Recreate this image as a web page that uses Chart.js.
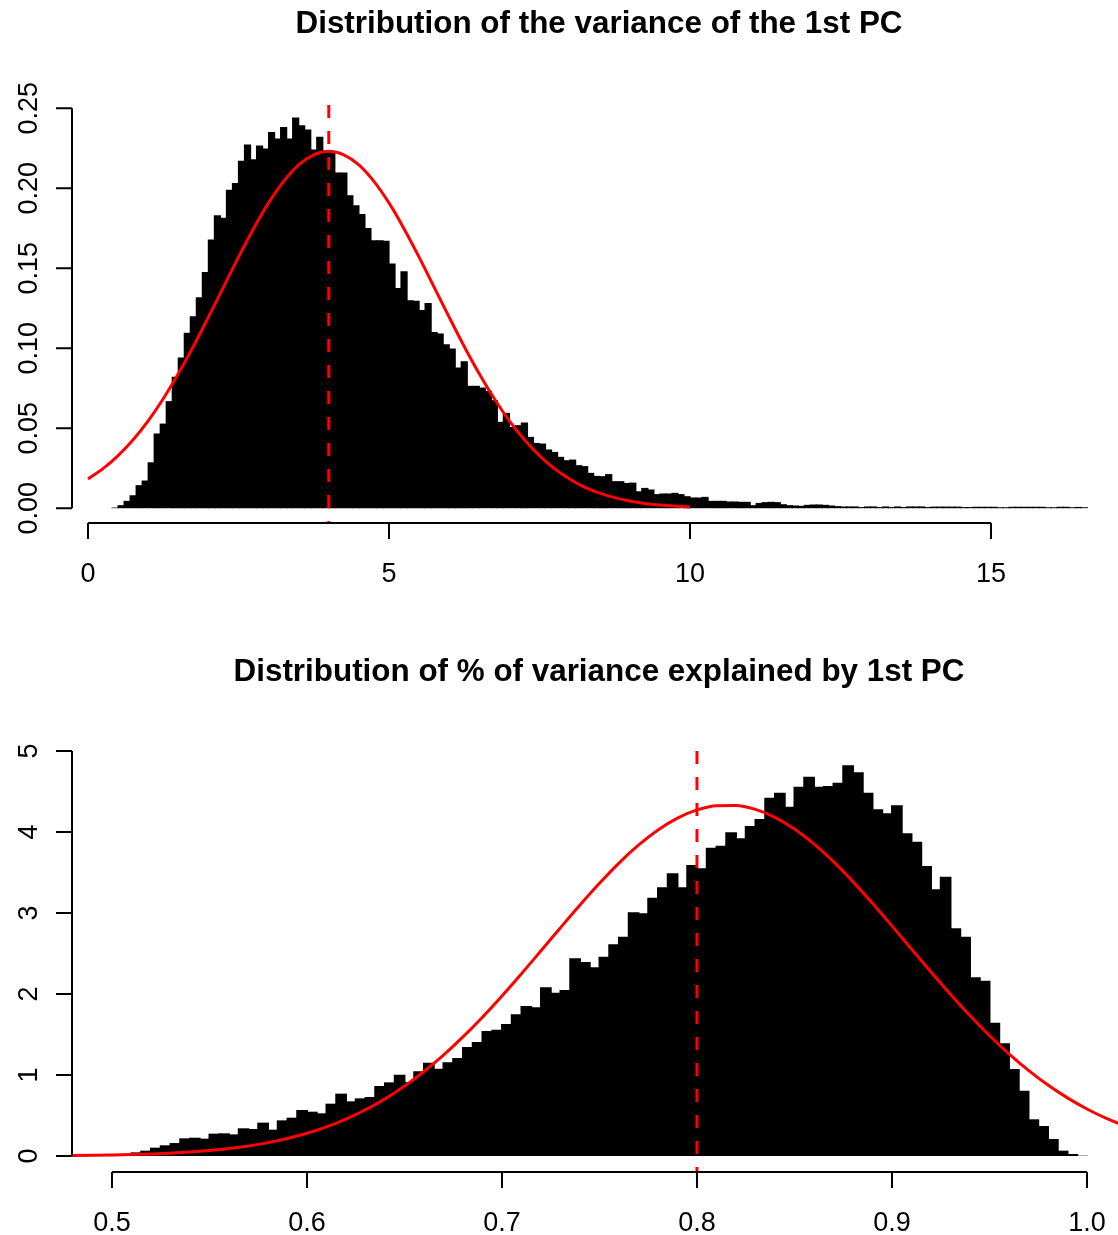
<!DOCTYPE html>
<html><head><meta charset="utf-8">
<script src="https://cdn.jsdelivr.net/npm/chart.js@4.4.1/dist/chart.umd.min.js"></script>
<style>
html,body{margin:0;padding:0;background:#fff;}
canvas{display:block;}
</style></head>
<body>
<canvas id="c1" width="1118" height="617"></canvas>
<canvas id="c2" width="1118" height="618"></canvas>
<script>
// ---------- DATA ----------
const topTitle = "Distribution of the variance of the 1st PC";
const bottomTitle = "Distribution of % of variance explained by 1st PC";

// top histogram: bins of width 0.1 starting at 0.4
const topBreakStart = 0.4;
const topBinWidth = 0.1;
const topDensity = [
  0.0004, 0.0019, 0.0046, 0.0081, 0.0144, 0.0173, 0.0287, 0.0467, 0.0529, 0.0669,
  0.0821, 0.0942, 0.1096, 0.1200, 0.1319, 0.1477, 0.1679, 0.1831, 0.1815, 0.1990,
  0.2033, 0.2171, 0.2273, 0.2181, 0.2267,
  0.2248, 0.2352, 0.2310, 0.2383, 0.2310, 0.2442, 0.2394, 0.2367, 0.2242, 0.2321,
  0.2235, 0.2230, 0.2098, 0.2098, 0.1956, 0.1894, 0.1838, 0.1752, 0.1675, 0.1675,
  0.1671, 0.1529, 0.1377, 0.1481, 0.1300,
  0.1296, 0.1238, 0.1283, 0.1102, 0.1092, 0.1025, 0.0998, 0.0879, 0.0919, 0.0765,
  0.0765, 0.0754, 0.0733, 0.0675, 0.0540, 0.0596, 0.0508, 0.0519, 0.0535, 0.0446,
  0.0408, 0.0404, 0.0367, 0.0352, 0.0321, 0.0300, 0.0304, 0.0269, 0.0263, 0.0221,
  0.0202,
  0.0200, 0.0213, 0.0169, 0.0169, 0.0158, 0.0160, 0.0106, 0.0127, 0.0117, 0.0088,
  0.0092, 0.0092, 0.0096, 0.0088, 0.0075, 0.0067, 0.0067, 0.0071, 0.0046, 0.0046,
  0.0046, 0.0042, 0.0042, 0.0040, 0.0040, 0.0019, 0.0033, 0.0038, 0.0040, 0.0038,
  0.0025, 0.0019, 0.0017, 0.0015, 0.0021, 0.0023, 0.0023, 0.0021, 0.0017, 0.0013,
  0.0011, 0.0011, 0.0011, 0.0007, 0.0011, 0.0011, 0.0007, 0.0011, 0.0007, 0.0011,
  0.0007, 0.0011, 0.0011, 0.0011, 0.0007, 0.0010, 0.0010, 0.0010, 0.0010, 0.0010,
  0.0007, 0.0007, 0.0009, 0.0009, 0.0009, 0.0009, 0.0006, 0.0006, 0.0009, 0.0009,
  0.0009, 0.0009, 0.0009, 0.0009, 0.0006, 0.0006, 0.0009, 0.0009, 0.0006, 0.0008,
  0.0006
];
const topCurveX = [0, 0.25, 0.5, 0.75, 1, 1.25, 1.5, 1.75, 2, 2.25, 2.5, 2.75, 3, 3.25, 3.5, 3.75,
  4, 4.25, 4.5, 4.75, 5, 5.25, 5.5, 5.75, 6, 6.25, 6.5, 6.75, 7, 7.25, 7.5, 7.75,
  8, 8.25, 8.5, 8.75, 9, 9.25, 9.5, 9.75, 10];
const topCurveY = [0.0183, 0.0247, 0.0329, 0.0428, 0.0546, 0.0684, 0.0840, 0.1011, 0.1194, 0.1382,
  0.1569, 0.1747, 0.1908, 0.2043, 0.2146, 0.2209, 0.2231, 0.2209, 0.2146, 0.2043,
  0.1908, 0.1747, 0.1569, 0.1382, 0.1194, 0.1011, 0.0840, 0.0684, 0.0546, 0.0428,
  0.0329, 0.0247, 0.0183, 0.0132, 0.0094, 0.0066, 0.0045, 0.0030, 0.0020, 0.0013, 0.0008];
const topMeanLine = 4.0;
const topXTicks = [0, 5, 10, 15];
const topXLabels = ["0", "5", "10", "15"];
const topYTicks = [0, 0.05, 0.10, 0.15, 0.20, 0.25];
const topYLabels = ["0.00", "0.05", "0.10", "0.15", "0.20", "0.25"];

// bottom histogram: bins of width 0.005 starting at 0.5
const bottomBreakStart = 0.5;
const bottomBinWidth = 0.005;
const bottomDensity = [
  0.005, 0.012, 0.045, 0.066, 0.103, 0.132, 0.160, 0.218, 0.226, 0.214,
  0.276, 0.280, 0.267, 0.342, 0.333, 0.412, 0.325, 0.440, 0.473, 0.568,
  0.547, 0.527, 0.646, 0.770, 0.675, 0.712, 0.728, 0.864, 0.909, 1.004,
  0.914, 1.045, 1.152, 1.078, 1.156, 1.210, 1.346, 1.407, 1.543, 1.560,
  1.630, 1.749, 1.852, 1.835, 2.084, 2.016, 2.049, 2.440, 2.395, 2.329,
  2.461, 2.613, 2.708, 3.008, 2.996, 3.189, 3.317, 3.490, 3.317, 3.593,
  3.551, 3.807, 3.831, 3.996, 3.922, 4.074, 4.160, 4.424, 4.486, 4.313,
  4.560, 4.683, 4.560, 4.568, 4.609, 4.823, 4.737, 4.486, 4.280, 4.230,
  4.329, 3.984, 3.881, 3.580, 3.292, 3.449, 2.811, 2.708, 2.206, 2.165,
  1.646, 1.391, 1.074, 0.807, 0.453, 0.370, 0.210, 0.066, 0.025, 0.004
];
const bottomCurveX = [0.47, 0.48, 0.49, 0.50, 0.51, 0.52, 0.53, 0.54, 0.55, 0.56,
  0.57, 0.58, 0.59, 0.60, 0.61, 0.62, 0.63, 0.64, 0.65, 0.66,
  0.67, 0.68, 0.69, 0.70, 0.71, 0.72, 0.73, 0.74, 0.75, 0.76,
  0.77, 0.78, 0.79, 0.80, 0.81, 0.82, 0.83, 0.84, 0.85, 0.86,
  0.87, 0.88, 0.89, 0.90, 0.91, 0.92, 0.93, 0.94, 0.95, 0.96,
  0.97, 0.98, 0.99, 1.00, 1.01, 1.02, 1.03];
const bottomCurveY = [0.0038, 0.0057, 0.0084, 0.0123, 0.0177, 0.0252, 0.0355, 0.0494, 0.0680, 0.0924,
  0.1242, 0.1650, 0.2164, 0.2806, 0.3599, 0.4559, 0.5708, 0.7054, 0.8627, 1.0430,
  1.2453, 1.4698, 1.7137, 1.9754, 2.2501, 2.5331, 2.8182, 3.0985, 3.3667, 3.6155,
  3.8369, 4.0241, 4.1714, 4.2728, 4.3256, 4.3278, 4.2788, 4.1810, 4.0375, 3.8534,
  3.6345, 3.3875, 3.1202, 2.8412, 2.5560, 2.2727, 1.9971, 1.7341, 1.4880, 1.2622,
  1.0581, 0.8766, 0.7176, 0.5806, 0.4641, 0.3669, 0.2865];
const bottomMeanLine = 0.8;
const bottomXTicks = [0.5, 0.6, 0.7, 0.8, 0.9, 1.0];
const bottomXLabels = ["0.5", "0.6", "0.7", "0.8", "0.9", "1.0"];
const bottomYTicks = [0, 1, 2, 3, 4, 5];
const bottomYLabels = ["0", "1", "2", "3", "4", "5"];

// ---------- RENDER ----------
const FONT = '"Liberation Sans", Arial, Helvetica, sans-serif';

const rAxes = {
  id: 'rAxes',
  afterDraw(chart, args, o) {
    const {ctx, chartArea: a} = chart;
    const xs = chart.scales.x, ys = chart.scales.y;
    ctx.save();
    ctx.strokeStyle = '#000';
    ctx.fillStyle = '#000';
    ctx.lineWidth = 2;
    ctx.lineCap = 'butt';
    // x axis (R style, detached at bottom of plot region)
    const ay = Math.round(a.bottom);
    const px = o.xTicks.map(v => xs.getPixelForValue(v));
    ctx.beginPath();
    ctx.moveTo(px[0], ay); ctx.lineTo(px[px.length - 1], ay);
    px.forEach(p => { ctx.moveTo(p, ay); ctx.lineTo(p, ay + 16); });
    ctx.stroke();
    ctx.font = '27px ' + FONT;
    ctx.textAlign = 'center';
    ctx.textBaseline = 'alphabetic';
    px.forEach((p, i) => ctx.fillText(o.xLabels[i], p, ay + 59));
    // y axis
    const ax = Math.round(a.left);
    const py = o.yTicks.map(v => ys.getPixelForValue(v));
    ctx.beginPath();
    ctx.moveTo(ax, py[0]); ctx.lineTo(ax, py[py.length - 1]);
    py.forEach(p => { ctx.moveTo(ax, p); ctx.lineTo(ax - 16, p); });
    ctx.stroke();
    py.forEach((p, i) => {
      ctx.save();
      ctx.translate(ax - 35, p);
      ctx.rotate(-Math.PI / 2);
      ctx.fillText(o.yLabels[i], 0, 0);
      ctx.restore();
    });
    // title
    ctx.font = 'bold 31.4px ' + FONT;
    ctx.fillText(o.title, o.titleX, o.titleY);
    ctx.restore();
  }
};

function makeChart(id, cfg) {
  const bins = cfg.density.map((v, i) => ({x: cfg.breakStart + (i + 0.5) * cfg.binWidth, y: v}));
  const curve = cfg.curveX.map((x, i) => ({x: x, y: cfg.curveY[i]}));
  const vline = [{x: cfg.mean, y: cfg.yMax}, {x: cfg.mean, y: cfg.yMin}];
  return new Chart(document.getElementById(id), {
    type: 'bar',
    data: {
      datasets: [
        {type: 'bar', data: bins, backgroundColor: '#000000', borderWidth: 0,
         barPercentage: 1.2, categoryPercentage: 1, order: 3},
        {type: 'line', data: curve, borderColor: '#ff0000', borderWidth: 3, pointRadius: 0,
         cubicInterpolationMode: 'monotone', fill: false, order: 2},
        {type: 'line', data: vline, borderColor: '#ff0000', borderWidth: 3, pointRadius: 0,
         borderDash: [13, 13], borderCapStyle: 'butt', fill: false, order: 1}
      ]
    },
    options: {
      responsive: false,
      animation: false,
      devicePixelRatio: 1,
      events: [],
      layout: {padding: cfg.padding},
      scales: {
        x: {type: 'linear', min: cfg.xMin, max: cfg.xMax, display: false, offset: false},
        y: {type: 'linear', min: cfg.yMin, max: cfg.yMax, display: false}
      },
      plugins: {
        legend: {display: false},
        tooltip: {enabled: false},
        title: {display: false},
        rAxes: {xTicks: cfg.xTicks, xLabels: cfg.xLabels, yTicks: cfg.yTicks, yLabels: cfg.yLabels,
                title: cfg.title, titleX: 599, titleY: cfg.titleY}
      }
    },
    plugins: [rAxes]
  });
}

makeChart('c1', {
  density: topDensity, breakStart: topBreakStart, binWidth: topBinWidth,
  curveX: topCurveX, curveY: topCurveY, mean: topMeanLine,
  xMin: -0.2658, xMax: 17.110, yMin: -0.00925, yMax: 0.252,
  padding: {left: 72, right: 0, top: 105, bottom: 94},
  xTicks: topXTicks, xLabels: topXLabels, yTicks: topYTicks, yLabels: topYLabels,
  title: topTitle, titleY: 33
});

makeChart('c2', {
  density: bottomDensity, breakStart: bottomBreakStart, binWidth: bottomBinWidth,
  curveX: bottomCurveX, curveY: bottomCurveY, mean: bottomMeanLine,
  xMin: 0.4795, xMax: 1.0159, yMin: -0.1975, yMax: 5.0,
  padding: {left: 72, right: 0, top: 134, bottom: 63},
  xTicks: bottomXTicks, xLabels: bottomXLabels, yTicks: bottomYTicks, yLabels: bottomYLabels,
  title: bottomTitle, titleY: 64
});
</script>
</body></html>
